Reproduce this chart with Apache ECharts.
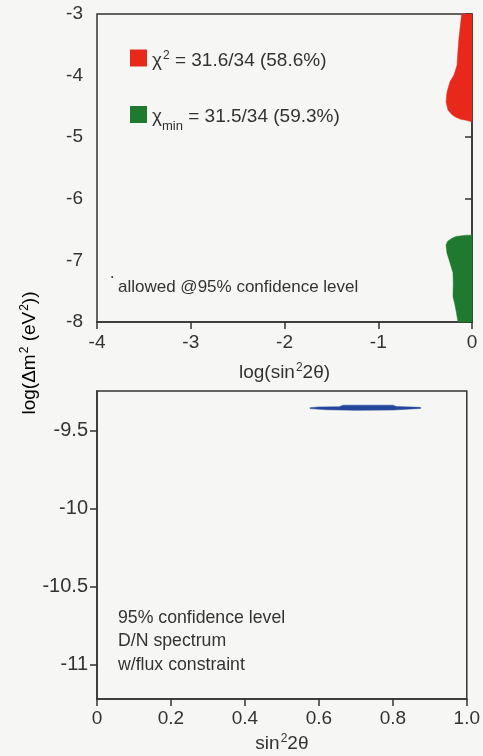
<!DOCTYPE html>
<html>
<head>
<meta charset="utf-8">
<script src="https://cdn.jsdelivr.net/npm/echarts@6/dist/echarts.min.js"></script>
<style>
  html, body { margin: 0; padding: 0; background: #f6f6f4; }
  #chart { width: 483px; height: 756px; }
</style>
</head>
<body>
<div id="chart"></div>
<script>
// top panel: log(sin^2 2θ) vs log(Δm^2), allowed regions at 95% CL
const redRegion = [
  [-0.11, -3], [-0.125, -3.2], [-0.139, -3.39], [-0.15, -3.6], [-0.16, -3.83],
  [-0.192, -3.99], [-0.235, -4.1], [-0.267, -4.27], [-0.277, -4.43],
  [-0.256, -4.56], [-0.215, -4.63], [-0.181, -4.67], [-0.12, -4.71],
  [-0.075, -4.72], [0, -4.75], [0, -3]
];
const greenRegion = [
  [0, -6.59], [-0.06, -6.59], [-0.107, -6.6], [-0.17, -6.61], [-0.213, -6.64],
  [-0.26, -6.69], [-0.277, -6.75], [-0.272, -6.82], [-0.267, -6.88],
  [-0.235, -7.04], [-0.203, -7.2], [-0.2, -7.37], [-0.203, -7.59],
  [-0.185, -7.7], [-0.171, -7.81], [-0.149, -8], [0, -8]
];
// bottom panel: sin^2 2θ vs log(Δm^2)
const blueBand = [
  [0.576, -9.352], [0.6, -9.347], [0.655, -9.346], [0.665, -9.336],
  [0.8, -9.336], [0.81, -9.345], [0.875, -9.35],
  [0.875, -9.357], [0.8, -9.367], [0.7, -9.369], [0.62, -9.365], [0.576, -9.358]
];
const bottomYTicks = [-11, -10.5, -10, -9.5];
const chiNames = ['chi2', 'chimin'];
const chiValues = [31.6, 31.5];
const chiDof = 34;
const chiProb = [58.6, 59.3];
const notesTop = 'allowed @95% confidence level';
const notesBottom = ['95% confidence level', 'D/N spectrum', 'w/flux constraint'];

const FONT = 'Liberation Sans, Arial, sans-serif';
const INK = '#333';

function polygon(points) {
  return function (params, api) {
    if (params.dataIndex !== 0) return;
    const color = api.visual('color');
    return {
      type: 'polygon',
      shape: { points: points.map((p) => api.coord(p)) },
      style: { fill: color, stroke: color, lineWidth: 0.5 },
    };
  };
}

const axisCommon = {
  splitLine: { show: false },
  axisLine: { lineStyle: { color: INK, width: 1.5 } },
  axisTick: { length: 7, lineStyle: { color: INK, width: 1.5 } },
  axisLabel: { color: INK, fontFamily: FONT, fontSize: 19 },
  nameTextStyle: { color: INK, fontFamily: FONT, fontSize: 19 },
};

const supRich = {
  t: { fontFamily: FONT, fontSize: 19, color: INK, lineHeight: 24, verticalAlign: 'bottom' },
  sup: { fontFamily: FONT, fontSize: 12, color: INK, lineHeight: 14, verticalAlign: 'top', padding: [4, 0, 0, 1] },
  sub: { fontFamily: FONT, fontSize: 13, color: INK, lineHeight: 24, verticalAlign: 'bottom', padding: [0, 0, -6, 0] },
};

const chart = echarts.init(document.getElementById('chart'));
chart.setOption({
  backgroundColor: '#f6f6f4',
  animation: false,
  grid: [
    { left: 97, top: 14, width: 375, height: 308, show: true, borderColor: INK, borderWidth: 1.5 },
    { left: 97, top: 391, width: 375, height: 308, show: true, borderColor: INK, borderWidth: 1.5 },
  ],
  xAxis: [
    {
      ...axisCommon,
      gridIndex: 0, type: 'value', min: -4, max: 0, interval: 1,
      axisLabel: { ...axisCommon.axisLabel, margin: 11 },
      name: '{t|log(sin}{sup|2}{t|2θ)}', nameLocation: 'middle', nameGap: 36,
      nameTextStyle: { ...axisCommon.nameTextStyle, rich: supRich },
    },
    {
      ...axisCommon,
      gridIndex: 1, type: 'value', min: 0, max: 1, interval: 0.2,
      axisLabel: { ...axisCommon.axisLabel, margin: 10, formatter: (v) => (v === 0 ? '0' : v.toFixed(1)) },
      name: '{t|sin}{sup|2}{t|2θ}', nameLocation: 'middle', nameGap: 27,
      nameTextStyle: { ...axisCommon.nameTextStyle, rich: supRich },
    },
  ],
  yAxis: [
    {
      ...axisCommon,
      gridIndex: 0, type: 'value', min: -8, max: -3, interval: 1,
      axisLabel: { ...axisCommon.axisLabel, margin: 14 },
    },
    {
      ...axisCommon,
      gridIndex: 1, type: 'value', min: -11.22, max: -9.245,
      axisTick: { ...axisCommon.axisTick, customValues: bottomYTicks },
      axisLabel: { ...axisCommon.axisLabel, fontSize: 20, margin: 9, customValues: bottomYTicks, formatter: (v) => String(v) },
    },
  ],
  legend: {
    orient: 'vertical', left: 130, top: 46, padding: 0,
    itemWidth: 17, itemHeight: 17, itemGap: 36, icon: 'rect',
    selectedMode: false,
    data: chiNames,
    formatter: (name) => {
      const i = chiNames.indexOf(name);
      const mark = i === 0 ? '{sup|2}' : '{sub|min}';
      return '{t|χ}' + mark + '{t| = ' + chiValues[i] + '/' + chiDof + ' (' + chiProb[i] + '%)}';
    },
    textStyle: { rich: supRich },
  },
  graphic: [
    {
      type: 'text', x: 27, y: 353, rotation: Math.PI / 2,
      style: {
        text: '{t|log(Δm}{sup|2}{t| (eV}{sup|2}{t|))}',
        rich: supRich, align: 'center', verticalAlign: 'middle',
      },
    },
    {
      type: 'text', x: 111, y: 277,
      style: { text: '•', fill: INK, fontSize: 7, fontFamily: FONT, align: 'left', verticalAlign: 'middle' },
    },
    {
      type: 'text', x: 118, y: 287,
      style: { text: notesTop, fill: INK, fontSize: 17, fontFamily: FONT, align: 'left', verticalAlign: 'middle' },
    },
    {
      type: 'text', x: 118, y: 606,
      style: {
        text: notesBottom.join('\n'), fill: INK, fontSize: 17.7, lineHeight: 23.5,
        fontFamily: FONT, align: 'left', verticalAlign: 'top',
      },
    },
  ],
  series: [
    {
      name: 'chi2', type: 'custom', xAxisIndex: 0, yAxisIndex: 0,
      itemStyle: { color: '#e8281b' }, data: redRegion, renderItem: polygon(redRegion),
    },
    {
      name: 'chimin', type: 'custom', xAxisIndex: 0, yAxisIndex: 0,
      itemStyle: { color: '#1f7a30' }, data: greenRegion, renderItem: polygon(greenRegion),
    },
    {
      name: 'D/N', type: 'custom', xAxisIndex: 1, yAxisIndex: 1,
      itemStyle: { color: '#24469b' }, data: blueBand, renderItem: polygon(blueBand),
    },
  ],
});
</script>
</body>
</html>
